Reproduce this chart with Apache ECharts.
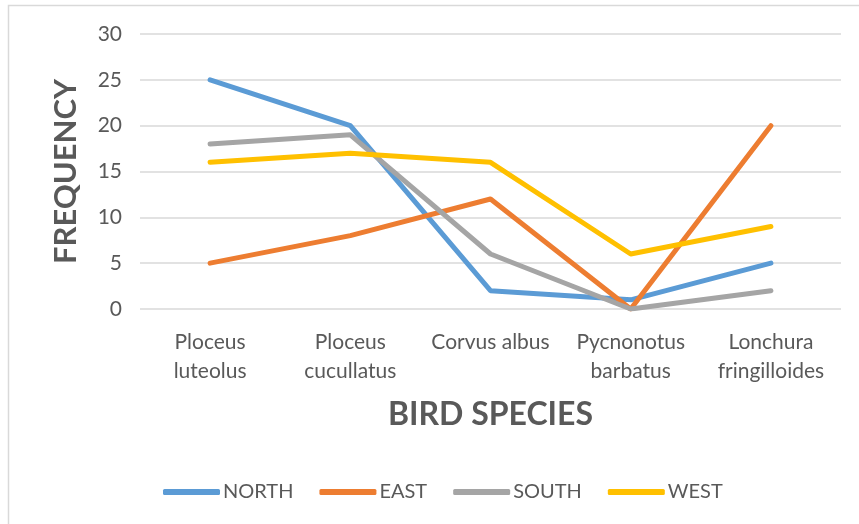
<!DOCTYPE html>
<html>
<head>
<meta charset="utf-8">
<script src="https://cdn.jsdelivr.net/npm/echarts@6/dist/echarts.min.js"></script>
<style>
  html, body { margin: 0; padding: 0; background: #fff; }
  #chart { width: 859px; height: 524px; }
</style>
</head>
<body>
<div id="chart"></div>
<script>
// bird counts per region
const species = ['Ploceus\nluteolus', 'Ploceus\ncucullatus', 'Corvus albus', 'Pycnonotus\nbarbatus', 'Lonchura\nfringilloides']
const north = [25, 20, 2, 1, 5]
const east = [5, 8, 12, 0, 20]
const south = [18, 19, 6, 0, 2]
const west = [16, 17, 16, 6, 9]

const font = 'Lato, sans-serif'
const colors = ['#5B9BD5', '#ED7D31', '#A5A5A5', '#FFC000']

let myChart = echarts.init(document.getElementById('chart'))

function line (name, data) {
  return {
    name: name,
    type: 'line',
    data: data,
    symbol: 'none',
    lineStyle: { width: 5, cap: 'round', join: 'round' }
  }
}

let option = {
  animation: false,
  color: colors,
  textStyle: { fontFamily: font },
  graphic: [
    {
      type: 'polyline',
      shape: { points: [[8.5, 524], [8.5, 5.5], [859, 5.5]] },
      style: { stroke: '#D9D9D9', lineWidth: 1.5, fill: 'none' }
    }
  ],
  grid: { left: 140, right: 18, top: 34, bottom: 215 },
  legend: {
    bottom: 17,
    left: 158,
    itemWidth: 57,
    itemHeight: 6,
    itemGap: 26,
    icon: 'roundRect',
    textStyle: { fontSize: 20, color: '#595959', fontFamily: font, padding: [0, 0, 0, -2] },
    data: ['NORTH', 'EAST', 'SOUTH', 'WEST']
  },
  xAxis: {
    type: 'category',
    data: species,
    name: 'BIRD SPECIES',
    nameLocation: 'middle',
    nameGap: 90,
    nameTextStyle: { fontSize: 32, fontWeight: 'bold', color: '#595959', fontFamily: font },
    axisLine: { show: false },
    axisTick: { show: false },
    axisLabel: { fontSize: 21, color: '#595959', lineHeight: 29, margin: 19, interval: 0 }
  },
  yAxis: {
    type: 'value',
    min: 0,
    max: 30,
    interval: 5,
    name: 'FREQUENCY',
    nameLocation: 'middle',
    nameGap: 59,
    nameTextStyle: { fontSize: 31, fontWeight: 'bold', color: '#595959', fontFamily: font },
    axisLabel: { fontSize: 21, color: '#595959', margin: 18 },
    splitLine: { lineStyle: { color: '#D9D9D9', width: 1.5 } }
  },
  series: [
    line('NORTH', north),
    line('EAST', east),
    line('SOUTH', south),
    line('WEST', west)
  ]
}
myChart.setOption(option, true)
</script>
</body>
</html>
